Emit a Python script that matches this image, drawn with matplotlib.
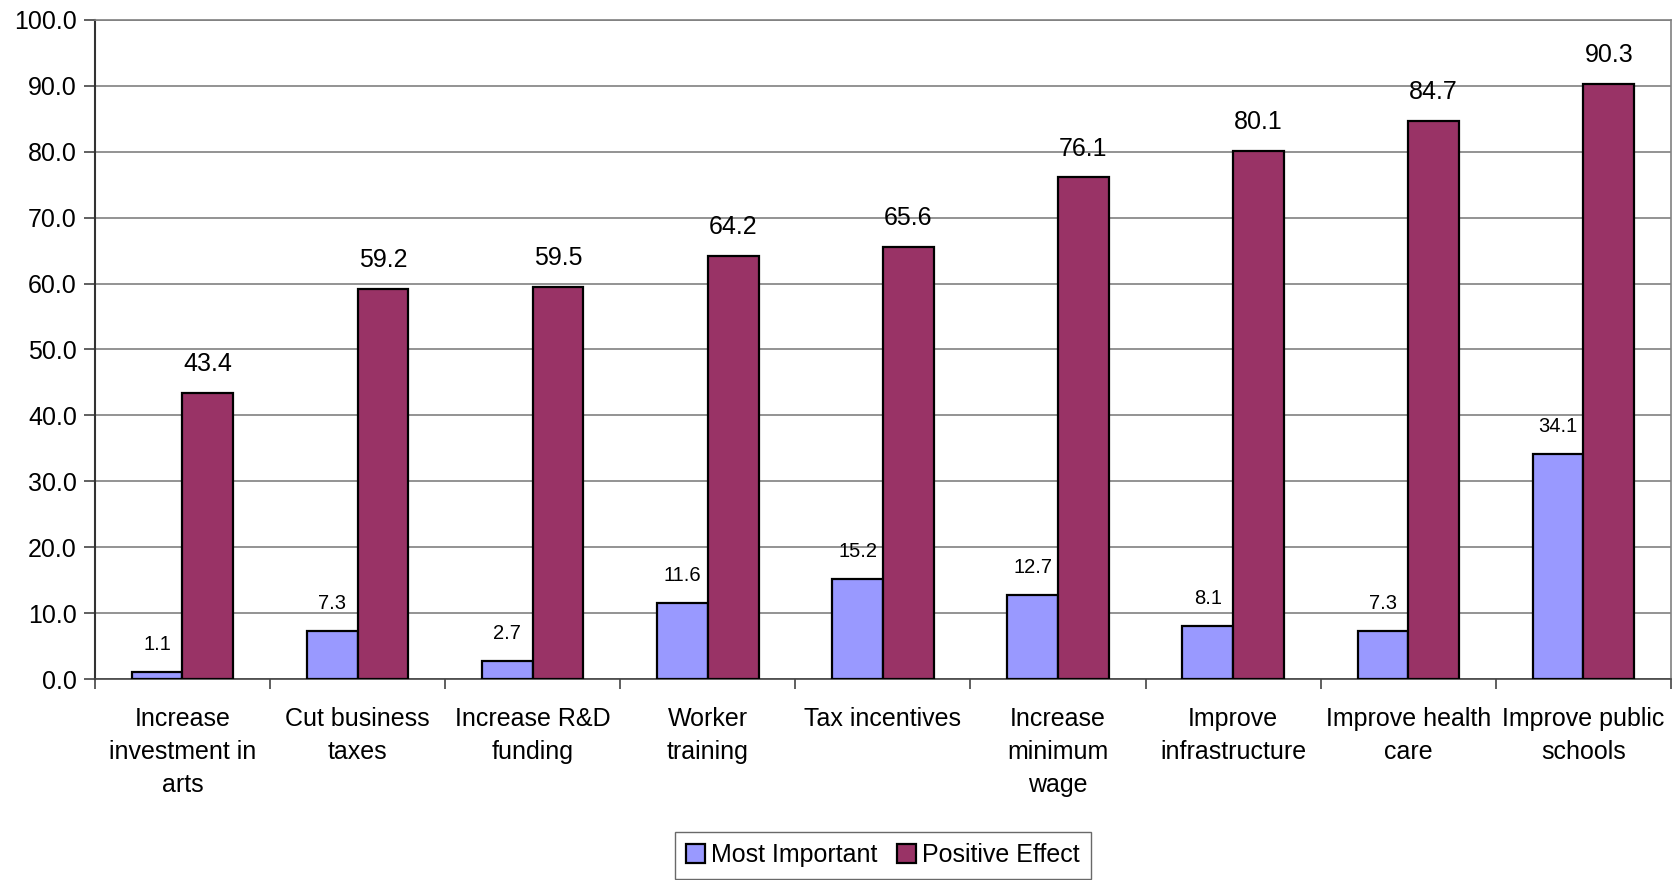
import numpy as np
import matplotlib.pyplot as plt

plt.rcParams['font.family'] = ['Liberation Sans', 'DejaVu Sans']

categories = ['Increase\ninvestment in\narts', 'Cut business\ntaxes', 'Increase R&D\nfunding',
              'Worker\ntraining', 'Tax incentives', 'Increase\nminimum\nwage',
              'Improve\ninfrastructure', 'Improve health\ncare', 'Improve public\nschools']
most_important = [1.1, 7.3, 2.7, 11.6, 15.2, 12.7, 8.1, 7.3, 34.1]
positive_effect = [43.4, 59.2, 59.5, 64.2, 65.6, 76.1, 80.1, 84.7, 90.3]

blue = '#9999FF'
maroon = '#993366'

fig = plt.figure(figsize=(16.77, 8.80), dpi=100)
ax = fig.add_axes([0.0566, 0.2284, 0.9398, 0.7489])

x = np.arange(len(categories))
w = 0.29
b1 = ax.bar(x - w / 2, most_important, w, color=blue, edgecolor='black', linewidth=1.6,
            label='Most Important', zorder=3)
b2 = ax.bar(x + w / 2, positive_effect, w, color=maroon, edgecolor='black', linewidth=1.6,
            label='Positive Effect', zorder=3)

for xi, v in zip(x, most_important):
    ax.annotate('%.1f' % v, (xi - w / 2, v), xytext=(0, 13), textcoords='offset points',
                ha='center', va='bottom', fontsize=14.5)
for xi, v in zip(x, positive_effect):
    ax.annotate('%.1f' % v, (xi + w / 2, v), xytext=(0, 12), textcoords='offset points',
                ha='center', va='bottom', fontsize=18)

ax.set_xlim(-0.5, len(categories) - 0.5)
ax.set_ylim(0, 100)
ax.set_yticks(np.arange(0, 101, 10))
ax.set_yticklabels(['%.1f' % t for t in np.arange(0, 101, 10)], fontsize=18)
ax.yaxis.grid(True, color='#808080', linewidth=1.2, zorder=0)

ax.set_xticks(x)
ax.set_xticklabels(categories, fontsize=18, linespacing=1.48, va='top')
ax.set_xticks(np.arange(-0.5, len(categories), 1), minor=True)
ax.tick_params(axis='x', which='major', length=0, pad=20)
ax.tick_params(axis='x', which='minor', length=7, width=1.2, color='#444444')
ax.tick_params(axis='y', length=8, width=1.2, color='#444444', pad=5)

ax.spines['left'].set_color('#333333')
ax.spines['left'].set_linewidth(1.5)
ax.spines['bottom'].set_color('#444444')
ax.spines['bottom'].set_linewidth(1.2)
ax.spines['right'].set_color('#808080')
ax.spines['right'].set_linewidth(1.2)
ax.spines['top'].set_color('#808080')
ax.spines['top'].set_linewidth(1.2)

leg = fig.legend(handles=[b1, b2], loc='upper center', bbox_to_anchor=(0.5265, 0.0545),
                 ncol=2, fontsize=18, frameon=True, fancybox=False, edgecolor='#444444',
                 handlelength=0.75, handleheight=0.75, handletextpad=0.25, columnspacing=0.8,
                 borderpad=0.45, borderaxespad=0)
leg.get_frame().set_linewidth(1.0)

fig.savefig('out.png', dpi=100)
